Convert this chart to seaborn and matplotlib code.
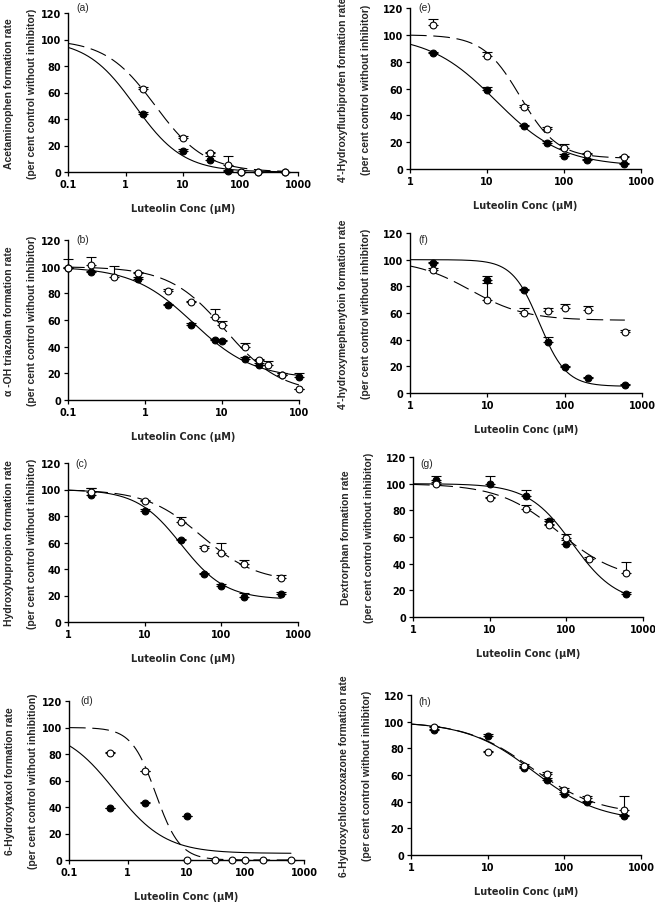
import numpy as np
import pandas as pd
import matplotlib
matplotlib.use("Agg")
import matplotlib.pyplot as plt
from matplotlib.ticker import FixedLocator, FixedFormatter, NullLocator
import seaborn as sns

# ---------------- data ----------------
# (a) Acetaminophen
a_x_filled = [2, 10, 30, 60, 100, 200, 600]
a_y_filled = [44, 16, 9, 0.5, 0, 0, 0]
a_e_filled = [1.5, 1.5, 3, 1, 0, 0, 0]
a_x_open = [2, 10, 30, 60, 100, 200, 600]
a_y_open = [63, 26, 14, 5, 0, 0, 0]
a_e_open = [1.5, 1, 1, 7, 0, 0, 0]
a_fit_solid = [100, 0, 1.46, 1.03]   # top, bottom, IC50, Hill
a_fit_dashed = [100, 0, 3.3, 1.0]

# (b) alpha-OH triazolam
b_x_filled = [0.1, 0.2, 0.8, 2, 4, 8, 10, 20, 30, 60, 100]
b_y_filled = [99, 96, 91, 71, 56, 45, 44, 31, 26, 19, 17]
b_e_filled = [7, 1, 1, 1, 2, 1, 1, 1, 2, 1, 3]
b_x_open = [0.1, 0.2, 0.4, 0.8, 2, 4, 8, 10, 20, 30, 40, 60, 100]
b_y_open = [99, 101, 92, 95, 82, 73.5, 62.5, 56, 39.5, 30, 26, 19, 8]
b_e_open = [1, 6.5, 8.5, 1, 1, 1, 5.5, 3.5, 3, 1, 3, 1, 0]
b_fit_solid = [100, 16, 4.2, 1.1]
b_fit_dashed = [100, 5, 11, 1.2]

# (c) Hydroxybupropion
c_x_filled = [2, 10, 30, 60, 100, 200, 600]
c_y_filled = [96, 84, 62, 36, 27, 19, 21]
c_e_filled = [5, 1, 1, 1, 1.5, 3, 1.5]
c_x_open = [2, 10, 30, 60, 100, 200, 600]
c_y_open = [98, 91, 75.5, 56, 52, 44, 33]
c_e_open = [3, 1, 3.5, 1, 8, 3, 2.5]
c_fit_solid = [100, 17, 30, 1.5]
c_fit_dashed = [100, 30, 55, 1.2]

# (d) 6-Hydroxytaxol
d_x_filled = [0.5, 2, 10]
d_y_filled = [39, 43, 33]
d_e_filled = [0.5, 0.5, 0.5]
d_x_open = [0.5, 2, 10, 30, 60, 100, 200, 600]
d_y_open = [81, 67, 0, 0, 0, 0, 0, 0]
d_e_open = [0.5, 0.5, 0, 0, 0, 0, 0, 0]
d_fit_solid = [100, 5, 0.6, 1.0]
d_fit_dashed = [100, 0, 3.0, 2.1]

# (e) 4'-Hydroxyflurbiprofen
e_x_filled = [2, 10, 30, 60, 100, 200, 600]
e_y_filled = [86.5, 59, 32, 19.5, 10, 6.5, 3.5]
e_e_filled = [1, 2, 1, 1, 1, 1, 1]
e_x_open = [2, 10, 30, 60, 100, 200, 600]
e_y_open = [107.5, 84.5, 46.5, 30, 16, 11, 9]
e_e_open = [4.5, 2.5, 1, 1, 2.5, 1, 1]
e_fit_solid = [100, 2, 13, 1.0]
e_fit_dashed = [100, 8, 27, 1.8]

# (f) 4'-hydroxymephenytoin
f_x_filled = [2, 10, 30, 60, 100, 200, 600]
f_y_filled = [97.5, 85, 77, 38, 19.5, 11, 6]
f_e_filled = [1, 3, 1, 4, 1, 1, 1]
f_x_open = [2, 10, 30, 60, 100, 200, 600]
f_y_open = [92, 69.5, 60, 61.5, 64, 62.5, 45.5]
f_e_open = [2, 13, 4, 2.5, 3, 2.5, 1.5]
f_fit_solid = [100, 5, 47, 2.5]
f_fit_dashed = [100, 54.5, 6, 1.2]

# (g) Dextrorphan
g_x_filled = [2, 10, 30, 60, 100, 600]
g_y_filled = [103, 99.5, 91, 72, 55, 17]
g_e_filled = [3, 6.5, 4, 1.5, 3, 2]
g_x_open = [2, 10, 30, 60, 100, 200, 600]
g_y_open = [100, 89, 81, 69, 59, 43.5, 33]
g_e_open = [1, 1, 3, 1, 3, 1.5, 8]
g_fit_solid = [100, 10, 120, 1.5]
g_fit_dashed = [100, 27, 80, 1.1]

# (h) 6-Hydroxychlorozoxazone
h_x_filled = [2, 10, 30, 60, 100, 200, 600]
h_y_filled = [93.5, 89, 65, 56.5, 46, 39.5, 29]
h_e_filled = [1, 2, 1, 1, 1, 1, 1]
h_x_open = [2, 10, 30, 60, 100, 200, 600]
h_y_open = [96, 77.5, 66.5, 60.5, 49, 43, 34]
h_e_open = [1, 0.5, 1.5, 1.5, 1, 1, 10]
h_fit_solid = [100, 25, 40, 1.0]
h_fit_dashed = [100, 30, 38, 1.0]

letters = ["(a)", "(b)", "(c)", "(d)", "(e)", "(f)", "(g)", "(h)"]
ylabels = [
    "Acetaminophen formation rate\n(per cent control without inhibitor)",
    "\u03b1 -OH triazolam formation rate\n(per cent control without inhibitor)",
    "Hydroxybupropion formation rate\n(per cent control without inhibitor)",
    "6-Hydroxytaxol formation rate\n(per cent control without inhibition)",
    "4'-Hydroxyflurbiprofen formation rate\n(per cent control without inhibitor)",
    "4'-hydroxymephenytoin formation rate\n(per cent control without inhibitor)",
    "Dextrorphan formation rate\n(per cent control without inhibitor)",
    "6-Hydroxychlorozoxazone formation rate\n(per cent control without inhibitor)",
]
xlabel = "Luteolin Conc (\u03bcM)"
yticks = [0, 20, 40, 60, 80, 100, 120]
xticks_01_1000 = [0.1, 1, 10, 100, 1000]
xticks_01_100 = [0.1, 1, 10, 100]
xticks_1_1000 = [1, 10, 100, 1000]
xtick_labels_01_1000 = ["0.1", "1", "10", "100", "1000"]
xtick_labels_01_100 = ["0.1", "1", "10", "100"]
xtick_labels_1_1000 = ["1", "10", "100", "1000"]

# ---------------- styling ----------------
sns.set_style("ticks")
plt.rcParams["font.family"] = ["Liberation Sans", "DejaVu Sans"]
plt.rcParams["font.weight"] = "bold"
plt.rcParams["axes.labelweight"] = "bold"
FS = 7.5
HFONT = ["DejaVu Sans"]   # wider face for horizontal texts
HFS = 7.0

W, H = 655, 903
fig = plt.figure(figsize=(W / 100, H / 100), dpi=100)

# axes boxes in pixels: left, top, right, bottom ; letter position ; ylabel offset
layout = [
    (68, 14, 298, 173, (83, 8), -31),
    (68, 241, 299, 401, (83, 240), -31),
    (68, 464, 298, 623, (82, 464), -31),
    (69, 702, 304, 861, (87, 701), -31),
    (410, 9, 641, 170, (425, 8), -39),
    (410, 234, 642, 394, (423, 240), -39),
    (413, 458, 643, 618, (427, 464), -39),
    (411, 696, 641, 856, (425, 702), -39),
]

panels = [
    (a_x_filled, a_y_filled, a_e_filled, a_x_open, a_y_open, a_e_open, a_fit_solid, a_fit_dashed,
     xticks_01_1000, xtick_labels_01_1000, (0.1, 600)),
    (b_x_filled, b_y_filled, b_e_filled, b_x_open, b_y_open, b_e_open, b_fit_solid, b_fit_dashed,
     xticks_01_100, xtick_labels_01_100, (0.1, 100)),
    (c_x_filled, c_y_filled, c_e_filled, c_x_open, c_y_open, c_e_open, c_fit_solid, c_fit_dashed,
     xticks_1_1000, xtick_labels_1_1000, (1, 600)),
    (d_x_filled, d_y_filled, d_e_filled, d_x_open, d_y_open, d_e_open, d_fit_solid, d_fit_dashed,
     xticks_01_1000, xtick_labels_01_1000, (0.1, 600)),
    (e_x_filled, e_y_filled, e_e_filled, e_x_open, e_y_open, e_e_open, e_fit_solid, e_fit_dashed,
     xticks_1_1000, xtick_labels_1_1000, (1, 600)),
    (f_x_filled, f_y_filled, f_e_filled, f_x_open, f_y_open, f_e_open, f_fit_solid, f_fit_dashed,
     xticks_1_1000, xtick_labels_1_1000, (1, 600)),
    (g_x_filled, g_y_filled, g_e_filled, g_x_open, g_y_open, g_e_open, g_fit_solid, g_fit_dashed,
     xticks_1_1000, xtick_labels_1_1000, (1, 600)),
    (h_x_filled, h_y_filled, h_e_filled, h_x_open, h_y_open, h_e_open, h_fit_solid, h_fit_dashed,
     xticks_1_1000, xtick_labels_1_1000, (1, 600)),
]


def hill(x, p):
    top, bottom, ic50, n = p
    return bottom + (top - bottom) / (1.0 + (x / ic50) ** n)


for i, (pan, lay) in enumerate(zip(panels, layout)):
    xf, yf, ef, xo, yo, eo, fs, fd, xt, xtl, crange = pan
    l, t, r, b, (lx, ly), yoff = lay
    ax = fig.add_axes([l / W, 1 - b / H, (r - l) / W, (b - t) / H])
    ax.set_xscale("log")
    ax.set_xlim(xt[0], xt[-1])
    ax.set_ylim(0, 120)

    # fitted curves
    xs = np.logspace(np.log10(crange[0]), np.log10(crange[1]), 300)
    curve = pd.DataFrame({"x": xs, "solid": hill(xs, fs), "dashed": hill(xs, fd)})
    sns.lineplot(data=curve, x="x", y="solid", ax=ax, color="black", linewidth=0.8, zorder=1)
    sns.lineplot(data=curve, x="x", y="dashed", ax=ax, color="black", linewidth=0.8,
                 linestyle=(0, (15, 6)), zorder=1)

    # error bars (upper)
    ax.errorbar(xf, yf, yerr=[np.zeros(len(ef)), ef], fmt="none", ecolor="black",
                elinewidth=0.8, capsize=3.5, capthick=0.8, zorder=2, clip_on=False)
    ax.errorbar(xo, yo, yerr=[np.zeros(len(eo)), eo], fmt="none", ecolor="black",
                elinewidth=0.8, capsize=3.5, capthick=0.8, zorder=2, clip_on=False)

    # points
    sns.scatterplot(x=xf, y=yf, ax=ax, color="black", edgecolor="black", s=24,
                    linewidth=0.8, zorder=3, clip_on=False)
    sns.scatterplot(x=xo, y=yo, ax=ax, color="white", edgecolor="black", s=24,
                    linewidth=0.8, zorder=4, clip_on=False)

    ax.xaxis.set_major_locator(FixedLocator(xt))
    ax.xaxis.set_major_formatter(FixedFormatter(xtl))
    ax.xaxis.set_minor_locator(NullLocator())
    ax.set_yticks(yticks)
    ax.tick_params(axis="both", which="major", direction="out", length=3, width=0.9,
                   labelsize=HFS, pad=2, color="black", labelcolor="black")
    for lab in ax.get_xticklabels() + ax.get_yticklabels():
        lab.set_fontweight("bold")
        lab.set_family(HFONT)
    sns.despine(ax=ax)
    for sp in ("left", "bottom"):
        ax.spines[sp].set_linewidth(1.0)
        ax.spines[sp].set_color("black")

    ax.set_xlabel(xlabel, fontsize=HFS, fontweight="bold", family=HFONT)
    ax.xaxis.set_label_coords(0.5, -31 / (b - t))
    ax.set_ylabel(ylabels[i], fontsize=FS, fontweight="bold", linespacing=2.6)
    ax.yaxis.set_label_coords(yoff / (r - l), 0.5)

    fig.text(lx / W, 1 - ly / H, letters[i], fontsize=FS, fontweight="normal",
             ha="center", va="center")

fig.savefig("out.png", dpi=100)
